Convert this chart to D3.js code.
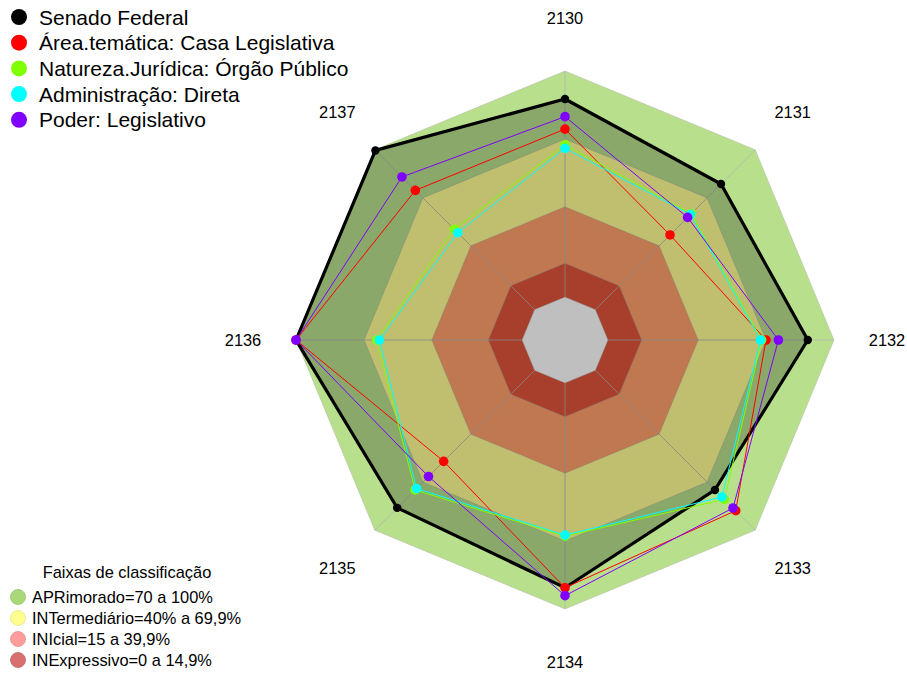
<!DOCTYPE html>
<html>
<head>
<meta charset="utf-8">
<script src="https://cdn.jsdelivr.net/npm/d3@7"></script>
<style>
  body { margin: 0; background: #fff; }
  text { font-family: 'Liberation Sans', Arial, sans-serif; fill: #000; }
</style>
</head>
<body>
<div id="radar"></div>
<script>
// axes (clockwise from top)
const axes = ['2130', '2131', '2132', '2133', '2134', '2135', '2136', '2137']

// series, in drawing order
const seriesNames = ['Senado Federal', 'Área.temática: Casa Legislativa', 'Natureza.Jurídica: Órgão Público', 'Administração: Direta', 'Poder: Legislativo']
const seriesColors = ['#000000', '#ff0000', '#80ff00', '#00ffff', '#8000ff']
const senado = [87.6, 78.6, 88.4, 74.8, 90.6, 86.0, 100, 99.6]
const areaTematica = [74.3, 46.7, 69.9, 87.8, 90.6, 56.9, 100, 74.6]
const natureza = [67.3, 60.0, 68.0, 80.7, 67.8, 74.8, 64.3, 50.2]
const administracao = [65.8, 59.5, 67.5, 79.2, 67.3, 73.9, 63.1, 48.1]
const poder = [79.8, 57.7, 75.4, 86.1, 94.1, 66.4, 100, 83.0]
const seriesValues = [senado, areaTematica, natureza, administracao, poder]

// classification bands
const bandNames = ['APRimorado=70 a 100%', 'INTermediário=40% a 69,9%', 'INIcial=15 a 39,9%', 'INExpressivo=0 a 14,9%']
const bandTops = [100, 69.9, 39.9, 14.9]
const bandColors = ['#b8e08c', '#ffff95', '#ffa06b', '#e0553b']
const legendBandColors = ['#a8d878', '#ffff90', '#ff9c9c', '#d87070']

const width = 907
const height = 673
const cx = 565, cy = 340

const svg = d3.select('#radar').append('svg')
  .attr('width', width)
  .attr('height', height)

const g = svg.append('g').attr('transform', `translate(${cx},${cy})`)

// value -> radius, with a hole in the middle
const r = d3.scaleLinear().domain([0, 100]).range([43, 269])
const angle = d3.scalePoint().domain(axes).range([0, 2 * Math.PI * 7 / 8])

const radar = d3.lineRadial()
  .angle((d, i) => angle(axes[i]))
  .radius(d => r(d))
  .curve(d3.curveLinearClosed)

const ring = v => axes.map(() => v)

// bands, biggest first
g.selectAll('path.band')
  .data(bandTops)
  .enter()
  .append('path')
  .attr('class', 'band')
  .attr('d', d => radar(ring(d)))
  .attr('fill', (d, i) => bandColors[i])
  .attr('stroke', 'rgba(170,170,170,0.4)')
  .attr('stroke-width', 1)

// centre hole
g.append('path')
  .attr('d', radar(ring(0)))
  .attr('fill', '#fff')
  .attr('stroke', 'rgba(170,170,170,0.4)')

// axis lines
g.selectAll('line.axis')
  .data(axes)
  .enter()
  .append('line')
  .attr('class', 'axis')
  .attr('x1', d => r(0) * Math.sin(angle(d)))
  .attr('y1', d => -r(0) * Math.cos(angle(d)))
  .attr('x2', d => r(100) * Math.sin(angle(d)))
  .attr('y2', d => -r(100) * Math.cos(angle(d)))
  .attr('stroke', 'rgba(180,180,180,0.8)')
  .attr('stroke-width', 1)

// Senado Federal shaded area
g.append('path')
  .attr('d', radar(senado))
  .attr('fill', 'rgba(0,0,0,0.25)')

// series lines and points
seriesValues.forEach((vals, k) => {
  g.append('path')
    .attr('d', radar(vals))
    .attr('fill', 'none')
    .attr('stroke', seriesColors[k])
    .attr('stroke-width', k == 0 ? 3.2 : 1)
    .attr('stroke-linejoin', 'miter')

  g.selectAll(null)
    .data(vals)
    .enter()
    .append('circle')
    .attr('cx', (d, i) => r(d) * Math.sin(angle(axes[i])))
    .attr('cy', (d, i) => -r(d) * Math.cos(angle(axes[i])))
    .attr('r', k == 0 ? 4.2 : 4.8)
    .attr('fill', seriesColors[k])
})

// axis labels
g.selectAll('text.label')
  .data(axes)
  .enter()
  .append('text')
  .attr('class', 'label')
  .attr('x', d => 322 * Math.sin(angle(d)))
  .attr('y', d => -322 * Math.cos(angle(d)))
  .attr('text-anchor', 'middle')
  .attr('dominant-baseline', 'central')
  .style('font-size', '16.4px')
  .text(d => d)

// series legend
const leg = svg.append('g')
seriesNames.forEach((name, i) => {
  const y = 17 + i * 25.7
  leg.append('circle')
    .attr('cx', 19).attr('cy', y).attr('r', 8)
    .attr('fill', seriesColors[i])
  leg.append('text')
    .attr('x', 39).attr('y', y)
    .attr('dominant-baseline', 'central')
    .style('font-size', '21px')
    .text(name)
})

// bands legend
const leg2 = svg.append('g')
leg2.append('text')
  .attr('x', 127).attr('y', 572)
  .attr('text-anchor', 'middle')
  .attr('dominant-baseline', 'central')
  .style('font-size', '16.4px')
  .text('Faixas de classificação')
bandNames.forEach((name, i) => {
  const y = 597 + i * 21
  leg2.append('circle')
    .attr('cx', 18).attr('cy', y).attr('r', 7.5)
    .attr('fill', legendBandColors[i])
    .attr('stroke', d3.color(legendBandColors[i]).darker(0.3))
    .attr('stroke-width', 0.8)
  leg2.append('text')
    .attr('x', 32).attr('y', y)
    .attr('dominant-baseline', 'central')
    .style('font-size', '16.4px')
    .text(name)
})
</script>
</body>
</html>
